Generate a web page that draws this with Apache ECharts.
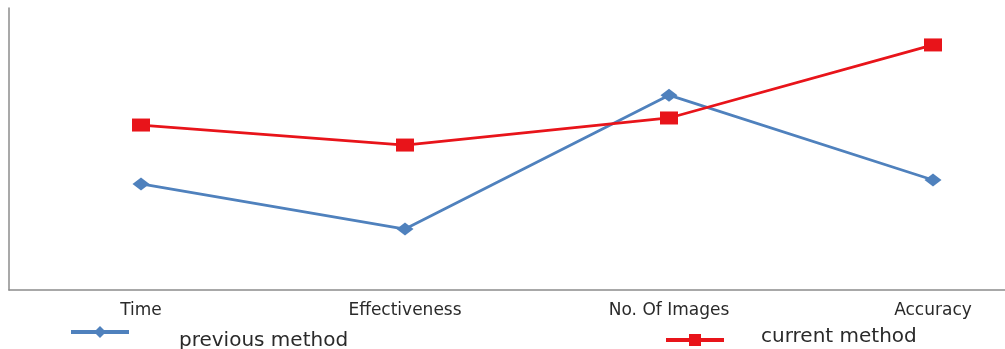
<!DOCTYPE html>
<html>
<head>
<meta charset="utf-8">
<script src="https://cdn.jsdelivr.net/npm/echarts@6/dist/echarts.min.js"></script>
<style>
  html, body { margin: 0; padding: 0; background: #fff; overflow: hidden; }
  /* plot area runs past the right edge of the picture, like the source */
  #chart { width: 1070px; height: 349px; }
</style>
</head>
<body>
<div id="chart"></div>
<script>
  // categories and values
  var categories = ['Time', 'Effectiveness', 'No. Of Images', 'Accuracy'];
  var previousMethod = [37.6, 21.6, 69.1, 39.0];
  var currentMethod = [58.5, 51.4, 61.0, 86.9];

  var chart = echarts.init(document.getElementById('chart'));
  var labelFont = 'DejaVu Sans';

  var option = {
    animation: false,
    backgroundColor: '#ffffff',
    grid: {
      left: 9,
      top: 8,
      width: 1056,
      height: 282,
      containLabel: false
    },
    legend: [
      {
        data: ['previous method'],
        left: 64,
        top: 321,
        itemWidth: 58,
        itemHeight: 15,
        lineStyle: { width: 4 },
        formatter: '{t|{name}}',
        textStyle: {
          fontFamily: labelFont,
          fontSize: 20,
          color: '#2a2a2a',
          rich: { t: { fontFamily: labelFont, fontSize: 20, color: '#2a2a2a', padding: [18, 0, 0, 45] } }
        }
      },
      {
        data: ['current method'],
        left: 659,
        top: 322,
        itemWidth: 58,
        itemHeight: 15,
        lineStyle: { width: 4 },
        formatter: '{t|{name}}',
        textStyle: {
          fontFamily: labelFont,
          fontSize: 20,
          color: '#2a2a2a',
          rich: { t: { fontFamily: labelFont, fontSize: 20, color: '#2a2a2a', padding: [0, 0, 6, 32] } }
        }
      }
    ],
    xAxis: {
      type: 'category',
      data: categories,
      boundaryGap: true,
      axisLine: { lineStyle: { color: '#8c8c8c', width: 1.5 } },
      axisTick: { show: false },
      axisLabel: {
        margin: 12,
        fontFamily: labelFont,
        fontSize: 17,
        color: '#2a2a2a'
      }
    },
    yAxis: {
      type: 'value',
      min: 0,
      max: 100,
      axisLine: { show: true, lineStyle: { color: '#8c8c8c', width: 1.5 } },
      axisTick: { show: false },
      axisLabel: { show: false },
      splitLine: { show: false }
    },
    series: [
      {
        name: 'previous method',
        type: 'line',
        data: previousMethod,
        symbol: 'diamond',
        symbolSize: [17, 13],
        itemStyle: { color: '#4f81bd' },
        lineStyle: { color: '#4f81bd', width: 2.8 }
      },
      {
        name: 'current method',
        type: 'line',
        data: currentMethod,
        symbol: 'rect',
        symbolSize: [18, 13],
        itemStyle: { color: '#e8141a' },
        lineStyle: { color: '#e8141a', width: 2.8 }
      }
    ]
  };

  chart.setOption(option);
</script>
</body>
</html>
